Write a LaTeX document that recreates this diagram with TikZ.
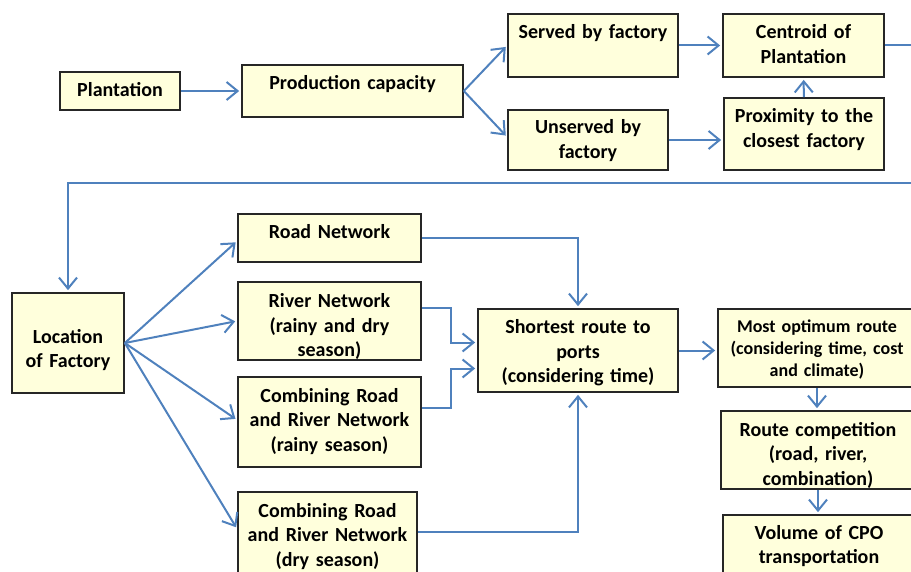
\documentclass[tikz,border=0pt]{standalone}
\usepackage{fontspec}
\setmainfont{Carlito}
\usepackage{xcolor}
\usepackage{tikz}
\usetikzlibrary{arrows.meta}
\definecolor{boxfill}{HTML}{FFFFDC}
\definecolor{flowblue}{HTML}{4F81BD}

\begin{document}
\begin{tikzpicture}[x=1pt, y=-1pt,
        box/.style={draw=black!85, line width=1.7pt, fill=boxfill, inner sep=0pt, anchor=base, align=center,
            font=\fontsize{20}{24.5}\selectfont\bfseries},
        flow/.style={draw=flowblue, line width=2pt, -{Straight Barb[length=11pt,width=18pt]}, shorten >=2pt}]
    \useasboundingbox (0,0) rectangle (911,572);
    \clip (0,0) rectangle (911,572);
    % top row
    \node[box, text width=120pt, text height=25pt, text depth=13pt] (plant) at (120,97) {Plantation};
    \node[box, text width=221pt, text height=25pt, text depth=27pt] (prod) at (352.5,90) {Production capacity};
    \node[box, text width=170pt, text height=25pt, text depth=38pt] (served) at (593,39) {Served by factory};
    \node[box, text width=160pt, text height=24pt, text depth=36pt] (unserved) at (588,134) {Unserved by\\factory};
    \node[box, text width=161pt, text height=25pt, text depth=38pt] (centroid) at (803.5,39) {Centroid of\\Plantation};
    \node[box, text width=160pt, text height=25pt, text depth=47pt] (prox) at (804,123) {Proximity to the\\closest factory};
    % networks
    \node[box, text width=112pt, text height=50pt, text depth=50pt] (loc) at (68,343) {Location\\of Factory};
    \node[box, text width=183pt, text height=25pt, text depth=23pt] (road) at (329.5,239) {Road Network};
    \node[box, text width=183pt, text height=26pt, text depth=52pt] (river) at (329.5,308) {River Network\\(rainy and dry\\season)};
    \node[box, text width=183pt, text height=25pt, text depth=65pt] (rainy) at (329.5,402) {Combining Road\\and River Network\\(rainy season)};
    \node[box, text width=179pt, text height=25pt, text depth=63pt] (dry) at (327.5,517) {Combining Road\\and River Network\\(dry season)};
    % routes
    \node[box, text width=200pt, text height=25pt, text depth=58pt] (short) at (578,334) {Shortest route to\\ports\\(considering time)};
    \node[box, text width=198pt, text height=23pt, text depth=55pt, font=\fontsize{18}{22}\selectfont\bfseries] (optimum) at (817,332) {Most optimum route\\(considering time, cost\\and climate)};
    \node[box, text width=194pt, text height=25pt, text depth=53pt] (route) at (818,436) {Route competition\\(road, river,\\combination)};
    \node[box, text width=192pt, text height=24pt, text depth=41pt] (volume) at (819,539) {Volume of CPO\\transportation};
    \coordinate (turn) at (925,183);

    \draw[flow] (plant) -- (prod);
    \draw[flow] (prod.east) -- (served.west);
    \draw[flow] (prod.east) -- (unserved.west |- 0,137);
    \draw[flow] (served) -- (centroid);
    \draw[flow] (unserved.east) -- (unserved.east -| prox.west);
    \draw[flow] (prox) -- (centroid);
    \draw[flow] (centroid.east) -| (turn) -| (loc.north);
    \draw[flow] (loc.east) -- (road.west |- 0,241);
    \draw[flow] (loc.east) -- (river.west);
    \draw[flow] (loc.east) -- (rainy.west |- 0,420);
    \draw[flow] (loc.east) -- (dry.west |- 0,529);
    \draw[flow] (road.east) -| (short.north);
    \draw[flow] ([yshift=13pt]river.east) -- ++(29,0) |- ([yshift=8pt]short.west);
    \draw[flow] ([yshift=14pt]rainy.east) -- ++(29,0) |- ([yshift=-18pt]short.west);
    \draw[flow] ([yshift=4pt]dry.east) -| (short.south);
    \draw[flow] (short.east) -- (short.east -| optimum.west);
    \draw[flow] (optimum.south) -- (optimum.south |- route.north);
    \draw[flow] (route.south) -- (route.south |- volume.north);
\end{tikzpicture}
\end{document}
